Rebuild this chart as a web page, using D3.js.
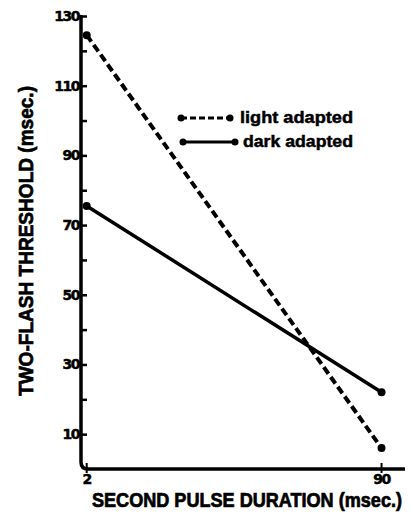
<!DOCTYPE html>
<html lang="en">
  <head>
    <meta charset="UTF-8" />
    <title>Two-flash threshold</title>
    <script src="https://cdn.jsdelivr.net/npm/d3@7"></script>
    <style>
      body { margin: 0; background: #fff; }
      text { font-family: "Liberation Sans", Arial, sans-serif; font-weight: bold; fill: #000; }
      .num { font-family: "DejaVu Sans", sans-serif; stroke: #000; stroke-width: 0.5; }
    </style>
  </head>
  <body>
    <div id="main-div"></div>
    <script>
      // data
      const durations = [2, 90];
      const lightAdapted = [124.5, 6];
      const darkAdapted = [75.5, 22];
      const yTicks = [10, 30, 50, 70, 90, 110, 130];
      const yMinor = [20, 40, 60, 80, 100, 120];
      const xTicks = [2, 90];
      const seriesNames = ["light adapted", "dark adapted"];

      let svg = d3
        .select("#main-div")
        .append("svg")
        .attr("width", 410)
        .attr("height", 516);

      let x = d3.scaleLinear().domain([0, 97]).range([80, 405]);
      let y = d3.scaleLinear().domain([0, 130]).range([469, 16]);

      //axes
      let yAxis = svg
        .append("g")
        .attr("transform", "translate(81,0)")
        .call(d3.axisRight(y).tickValues(yTicks.concat(yMinor)).tickSize(6).tickFormat(""));
      yAxis.select(".domain").remove();
      yAxis.selectAll("line").attr("stroke", "#000").attr("stroke-width", 2.5);

      svg
        .append("path")
        .attr("d", "M81,15 L81,462 Q81,469 88,469 L405,469")
        .attr("fill", "none")
        .attr("stroke", "#000")
        .attr("stroke-width", 3.5);

      svg
        .selectAll(".ylab")
        .data(yTicks)
        .enter()
        .append("text")
        .attr("class", "num")
        .attr("x", 79)
        .attr("y", (d) => y(d) + 5)
        .attr("text-anchor", "end")
        .attr("font-size", 14)
        .attr("letter-spacing", -1.5)
        .text((d) => d);

      svg
        .selectAll(".xtick")
        .data(xTicks)
        .enter()
        .append("line")
        .attr("x1", (d) => x(d))
        .attr("x2", (d) => x(d))
        .attr("y1", 463)
        .attr("y2", 473)
        .attr("stroke", "#000")
        .attr("stroke-width", 2);

      svg
        .selectAll(".xlab")
        .data(xTicks)
        .enter()
        .append("text")
        .attr("class", "num")
        .attr("x", (d) => x(d))
        .attr("y", 484)
        .attr("text-anchor", "middle")
        .attr("font-size", 14)
        .attr("letter-spacing", -1.5)
        .text((d) => d);

      // condensed look: fit text to the span, stretch a little vertically
      svg
        .append("text")
        .attr("transform", "translate(92,507) scale(1,1.15)")
        .attr("font-size", 17)
        .attr("textLength", 310)
        .attr("lengthAdjust", "spacingAndGlyphs")
        .attr("stroke", "#000")
        .attr("stroke-width", 0.6)
        .text("SECOND PULSE DURATION (msec.)");

      svg
        .append("text")
        .attr("transform", "translate(33,396) rotate(-90) scale(1,1.15)")
        .attr("font-size", 17)
        .attr("textLength", 310)
        .attr("lengthAdjust", "spacingAndGlyphs")
        .attr("stroke", "#000")
        .attr("stroke-width", 0.6)
        .text("TWO-FLASH THRESHOLD (msec.)");

      //lines
      let line = d3
        .line()
        .x((d, i) => x(durations[i]))
        .y((d) => y(d));

      svg
        .append("path")
        .datum(lightAdapted)
        .attr("d", line)
        .attr("fill", "none")
        .attr("stroke", "#000")
        .attr("stroke-width", 4)
        .attr("stroke-dasharray", "8,4");
      svg
        .append("path")
        .datum(darkAdapted)
        .attr("d", line)
        .attr("fill", "none")
        .attr("stroke", "#000")
        .attr("stroke-width", 3.5);

      [lightAdapted, darkAdapted].forEach((s) => {
        svg
          .selectAll(null)
          .data(s)
          .enter()
          .append("circle")
          .attr("cx", (d, i) => x(durations[i]))
          .attr("cy", (d) => y(d))
          .attr("r", 4)
          .attr("fill", "#000");
      });

      //legend
      let legend = svg.append("g");
      seriesNames.forEach((name, i) => {
        let ly = 118 + i * 24;
        let x0 = 181 + i * 2;
        let x1 = 230 + i * 5;
        legend
          .append("line")
          .attr("x1", x0)
          .attr("x2", x1)
          .attr("y1", ly)
          .attr("y2", ly)
          .attr("stroke", "#000")
          .attr("stroke-width", 3)
          .attr("stroke-dasharray", i == 0 ? "6,3" : null);
        legend.append("circle").attr("cx", x0).attr("cy", ly).attr("r", 3.5);
        legend.append("circle").attr("cx", x1).attr("cy", ly).attr("r", 3.5);
        legend
          .append("text")
          .attr("x", i == 0 ? 240 : 243)
          .attr("y", ly + 5)
          .attr("font-size", 17)
          .attr("textLength", i == 0 ? 113 : 110)
          .attr("lengthAdjust", "spacingAndGlyphs")
          .attr("stroke", "#000")
          .attr("stroke-width", 0.5)
          .text(name);
      });
    </script>
  </body>
</html>
